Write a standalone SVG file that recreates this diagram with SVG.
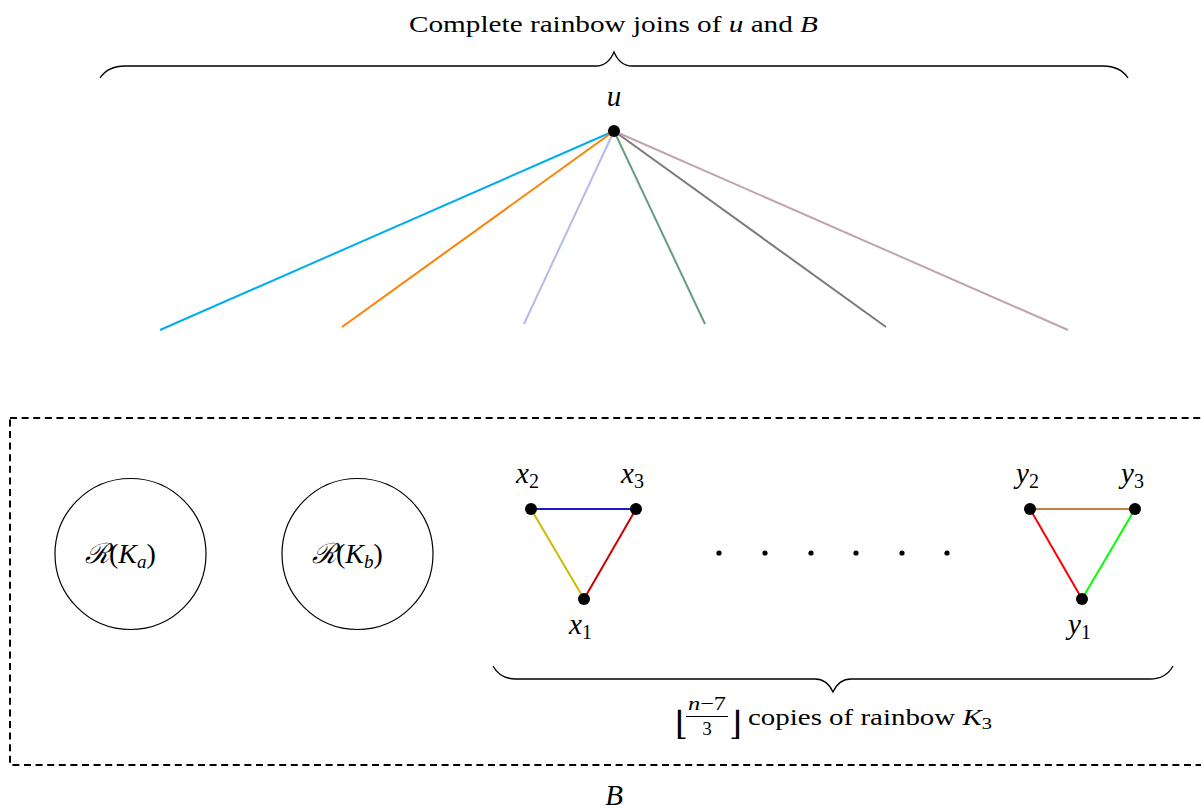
<svg xmlns="http://www.w3.org/2000/svg" width="1201" height="809" viewBox="0 0 1201 809">
<style>
.brace{fill:none;stroke:#000;stroke-width:1.3}
.e{stroke-width:2;fill:none}
.circ{fill:none;stroke:#000;stroke-width:1.2}
.dot{fill:#000}
</style>
<rect x="0" y="0" width="1201" height="809" fill="#fff"/>
<g font-family="Liberation Serif, DejaVu Serif, serif" fill="#000">
<g id="title">
<text x="409" y="32" font-size="24" textLength="409" lengthAdjust="spacingAndGlyphs">Complete rainbow joins of <tspan font-style="italic">u</tspan> and <tspan font-style="italic">B</tspan></text>
</g>
<g id="brace-top">
<path class="brace" d="M100,78 Q108,66 125,66 L596,66 Q608,66 614,52 Q620,66 632,66 L1103,66 Q1120,66 1128,78"/>
</g>
<g id="connectors">
<line class="e" x1="614" y1="131" x2="160" y2="330" stroke="#00aeef"/>
<line class="e" x1="614" y1="131" x2="342" y2="327" stroke="#ff8000"/>
<line class="e" x1="614" y1="131" x2="524" y2="324" stroke="#b4bbea"/>
<line class="e" x1="614" y1="131" x2="705" y2="324" stroke="#659e7c"/>
<line class="e" x1="614" y1="131" x2="886" y2="327" stroke="#7a7a7a"/>
<line class="e" x1="614" y1="131" x2="1068" y2="330" stroke="#c0a3b2"/>
<line class="e" x1="531" y1="509" x2="636" y2="509" stroke="#1a1acc"/>
<line class="e" x1="531" y1="509" x2="584" y2="599" stroke="#ccbb00"/>
<line class="e" x1="636" y1="509" x2="584" y2="599" stroke="#cc0000"/>
<line class="e" x1="1030" y1="509" x2="1135" y2="509" stroke="#bf8040"/>
<line class="e" x1="1030" y1="509" x2="1082" y2="599" stroke="#ff0000"/>
<line class="e" x1="1135" y1="509" x2="1082" y2="599" stroke="#00ff00"/>
</g>
<g id="node-u">
<circle class="dot" cx="614" cy="131" r="6"/>
<text x="614" y="106" font-size="29" font-style="italic" text-anchor="middle">u</text>
</g>
<g id="region-B">
<rect x="10" y="418" width="1200" height="347" fill="none" stroke="#000" stroke-width="2" stroke-dasharray="7 4.6"/>
<text x="614" y="805" font-size="29" font-style="italic" text-anchor="middle">B</text>
</g>
<g id="node-Ka">
<circle class="circ" cx="130.5" cy="554" r="75.5"/>
<text x="85" y="563" font-size="28"><tspan font-style="italic">ℛ</tspan>(<tspan font-style="italic">K</tspan><tspan font-style="italic" font-size="19" dy="5">a</tspan><tspan dy="-5">)</tspan></text>
</g>
<g id="node-Kb">
<circle class="circ" cx="357.5" cy="554" r="75.5"/>
<text x="312" y="563" font-size="28"><tspan font-style="italic">ℛ</tspan>(<tspan font-style="italic">K</tspan><tspan font-style="italic" font-size="19" dy="5">b</tspan><tspan dy="-5">)</tspan></text>
</g>
<g id="node-x2">
<circle class="dot" cx="531" cy="509" r="6"/>
<text x="516" y="483" font-size="29" font-style="italic">x<tspan font-style="normal" font-size="20" dy="5">2</tspan></text>
</g>
<g id="node-x3">
<circle class="dot" cx="636" cy="509" r="6"/>
<text x="621" y="483" font-size="29" font-style="italic">x<tspan font-style="normal" font-size="20" dy="5">3</tspan></text>
</g>
<g id="node-x1">
<circle class="dot" cx="584" cy="599" r="6"/>
<text x="569" y="634" font-size="29" font-style="italic">x<tspan font-style="normal" font-size="20" dy="5">1</tspan></text>
</g>
<g id="dots">
<circle class="dot" cx="719" cy="553" r="2.6"/>
<circle class="dot" cx="765" cy="553" r="2.6"/>
<circle class="dot" cx="811" cy="553" r="2.6"/>
<circle class="dot" cx="856" cy="553" r="2.6"/>
<circle class="dot" cx="902" cy="553" r="2.6"/>
<circle class="dot" cx="947" cy="553" r="2.6"/>
</g>
<g id="node-y2">
<circle class="dot" cx="1030" cy="509" r="6"/>
<text x="1016" y="483" font-size="29" font-style="italic">y<tspan font-style="normal" font-size="20" dy="5">2</tspan></text>
</g>
<g id="node-y3">
<circle class="dot" cx="1135" cy="509" r="6"/>
<text x="1121" y="483" font-size="29" font-style="italic">y<tspan font-style="normal" font-size="20" dy="5">3</tspan></text>
</g>
<g id="node-y1">
<circle class="dot" cx="1082" cy="599" r="6"/>
<text x="1068" y="634" font-size="29" font-style="italic">y<tspan font-style="normal" font-size="20" dy="5">1</tspan></text>
</g>
<g id="brace-bottom">
<path class="brace" d="M493,666 Q500,679 516,679 L815,679 Q827,679 833,692 Q839,679 851,679 L1150,679 Q1166,679 1173,666"/>
</g>
<g id="label-copies">
<text x="675" y="735" font-size="33" font-weight="normal">⌊</text>
<text x="707" y="710" font-size="19" text-anchor="middle" textLength="38" lengthAdjust="spacingAndGlyphs"><tspan font-style="italic">n</tspan>−7</text>
<line x1="686" y1="716.5" x2="728" y2="716.5" stroke="#000" stroke-width="1"/>
<text x="707" y="735" font-size="19" text-anchor="middle">3</text>
<text x="729" y="735" font-size="33">⌋</text>
<text x="748" y="725" font-size="24" textLength="244" lengthAdjust="spacingAndGlyphs">copies of rainbow <tspan font-style="italic">K</tspan><tspan font-size="17" dy="4">3</tspan></text>
</g>
</g>
</svg>
